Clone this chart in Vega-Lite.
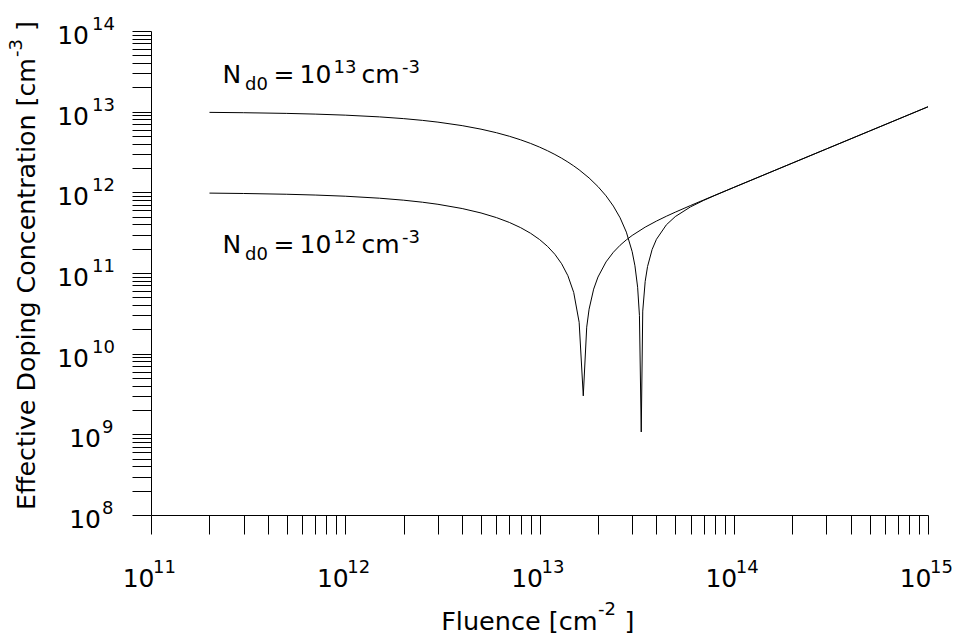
{
  "$schema": "https://vega.github.io/schema/vega-lite/v6.json",
  "width": 777,
  "height": 484,
  "autosize": "none",
  "padding": {"left": 151, "top": 31, "right": 31, "bottom": 120},
  "config": {"view": {"stroke": null}, "text": {"font": "DejaVu Sans", "color": "#000"}},
  "datasets": {
    "curves": [
      {"x": 2e11, "y": 9.783e11, "s": "12"}, {"x": 3e11, "y": 9.676e11, "s": "12"}, {"x": 5e11, "y": 9.464e11, "s": "12"},
      {"x": 7e11, "y": 9.257e11, "s": "12"}, {"x": 1e12, "y": 8.952e11, "s": "12"}, {"x": 1.5e12, "y": 8.46e11, "s": "12"},
      {"x": 2e12, "y": 7.99e11, "s": "12"}, {"x": 2.5e12, "y": 7.54e11, "s": "12"}, {"x": 3e12, "y": 7.108e11, "s": "12"},
      {"x": 4e12, "y": 6.297e11, "s": "12"}, {"x": 5e12, "y": 5.551e11, "s": "12"}, {"x": 6e12, "y": 4.864e11, "s": "12"},
      {"x": 7e12, "y": 4.231e11, "s": "12"}, {"x": 8e12, "y": 3.646e11, "s": "12"}, {"x": 9e12, "y": 3.105e11, "s": "12"},
      {"x": 1e13, "y": 2.603e11, "s": "12"}, {"x": 1.1e13, "y": 2.138e11, "s": "12"}, {"x": 1.2e13, "y": 1.705e11, "s": "12"},
      {"x": 1.3e13, "y": 1.302e11, "s": "12"}, {"x": 1.4e13, "y": 9.26e10, "s": "12"}, {"x": 1.5e13, "y": 5.74e10, "s": "12"},
      {"x": 1.6e13, "y": 2.45e10, "s": "12"}, {"x": 1.68e13, "y": 3.0e9, "s": "12"}, {"x": 1.75e13, "y": 2.13e10, "s": "12"},
      {"x": 1.8e13, "y": 3.56e10, "s": "12"}, {"x": 1.9e13, "y": 6.31e10, "s": "12"}, {"x": 2.0e13, "y": 8.91e10, "s": "12"},
      {"x": 2.2e13, "y": 1.372e11, "s": "12"}, {"x": 2.4e13, "y": 1.808e11, "s": "12"}, {"x": 2.6e13, "y": 2.208e11, "s": "12"},
      {"x": 2.8e13, "y": 2.577e11, "s": "12"}, {"x": 3.0e13, "y": 2.921e11, "s": "12"}, {"x": 3.5e13, "y": 3.701e11, "s": "12"},
      {"x": 4.0e13, "y": 4.402e11, "s": "12"}, {"x": 4.5e13, "y": 5.053e11, "s": "12"}, {"x": 5e13, "y": 5.676e11, "s": "12"},
      {"x": 6e13, "y": 6.872e11, "s": "12"}, {"x": 7e13, "y": 8.04e11, "s": "12"}, {"x": 8e13, "y": 9.196e11, "s": "12"},
      {"x": 1e14, "y": 1.15e12, "s": "12"}, {"x": 1.5e14, "y": 1.725e12, "s": "12"}, {"x": 2e14, "y": 2.3e12, "s": "12"},
      {"x": 3e14, "y": 3.45e12, "s": "12"}, {"x": 5e14, "y": 5.75e12, "s": "12"}, {"x": 7e14, "y": 8.05e12, "s": "12"},
      {"x": 1e15, "y": 1.15e13, "s": "12"},
      {"x": 2e11, "y": 9.804e12, "s": "13"}, {"x": 3e11, "y": 9.707e12, "s": "13"}, {"x": 5e11, "y": 9.516e12, "s": "13"},
      {"x": 7e11, "y": 9.329e12, "s": "13"}, {"x": 1e12, "y": 9.055e12, "s": "13"}, {"x": 1.5e12, "y": 8.616e12, "s": "13"},
      {"x": 2e12, "y": 8.197e12, "s": "13"}, {"x": 2.5e12, "y": 7.798e12, "s": "13"}, {"x": 3e12, "y": 7.418e12, "s": "13"},
      {"x": 4e12, "y": 6.711e12, "s": "13"}, {"x": 5e12, "y": 6.069e12, "s": "13"}, {"x": 6e12, "y": 5.485e12, "s": "13"},
      {"x": 7e12, "y": 4.955e12, "s": "13"}, {"x": 8e12, "y": 4.474e12, "s": "13"}, {"x": 9e12, "y": 4.036e12, "s": "13"},
      {"x": 1e13, "y": 3.638e12, "s": "13"}, {"x": 1.1e13, "y": 3.276e12, "s": "13"}, {"x": 1.2e13, "y": 2.947e12, "s": "13"},
      {"x": 1.3e13, "y": 2.648e12, "s": "13"}, {"x": 1.4e13, "y": 2.375e12, "s": "13"}, {"x": 1.5e13, "y": 2.127e12, "s": "13"},
      {"x": 1.6e13, "y": 1.901e12, "s": "13"}, {"x": 1.8e13, "y": 1.507e12, "s": "13"}, {"x": 2.0e13, "y": 1.179e12, "s": "13"},
      {"x": 2.2e13, "y": 9.05e11, "s": "13"}, {"x": 2.4e13, "y": 6.756e11, "s": "13"}, {"x": 2.6e13, "y": 4.833e11, "s": "13"},
      {"x": 2.8e13, "y": 3.21e11, "s": "13"}, {"x": 3.0e13, "y": 1.837e11, "s": "13"}, {"x": 3.1e13, "y": 1.228e11, "s": "13"},
      {"x": 3.2e13, "y": 6.66e10, "s": "13"}, {"x": 3.27e13, "y": 2.97e10, "s": "13"}, {"x": 3.34e13, "y": 1.07e9, "s": "13"},
      {"x": 3.4e13, "y": 3.37e10, "s": "13"}, {"x": 3.5e13, "y": 7.86e10, "s": "13"}, {"x": 3.6e13, "y": 1.204e11, "s": "13"},
      {"x": 3.8e13, "y": 1.956e11, "s": "13"}, {"x": 4.0e13, "y": 2.616e11, "s": "13"}, {"x": 4.5e13, "y": 3.96e11, "s": "13"},
      {"x": 5e13, "y": 5.005e11, "s": "13"}, {"x": 6e13, "y": 6.62e11, "s": "13"}, {"x": 7e13, "y": 7.945e11, "s": "13"},
      {"x": 8e13, "y": 9.161e11, "s": "13"}, {"x": 1e14, "y": 1.1495e12, "s": "13"}, {"x": 1.5e14, "y": 1.725e12, "s": "13"},
      {"x": 2e14, "y": 2.3e12, "s": "13"}, {"x": 3e14, "y": 3.45e12, "s": "13"}, {"x": 5e14, "y": 5.75e12, "s": "13"},
      {"x": 7e14, "y": 8.05e12, "s": "13"}, {"x": 1e15, "y": 1.15e13, "s": "13"}
    ],
    "xl": [
      {"x": 1e11, "y": 1e8, "e": "11"}, {"x": 1e12, "y": 1e8, "e": "12"}, {"x": 1e13, "y": 1e8, "e": "13"},
      {"x": 1e14, "y": 1e8, "e": "14"}, {"x": 1e15, "y": 1e8, "e": "15"}
    ],
    "yl": [
      {"x": 1e11, "y": 1e8, "e": "8"}, {"x": 1e11, "y": 1e9, "e": "9"}, {"x": 1e11, "y": 1e10, "e": "10"},
      {"x": 1e11, "y": 1e11, "e": "11"}, {"x": 1e11, "y": 1e12, "e": "12"}, {"x": 1e11, "y": 1e13, "e": "13"},
      {"x": 1e11, "y": 1e14, "e": "14"}
    ],
    "ann": [
      {"x": 2.335e11, "y": 2.25e13, "e": "13"},
      {"x": 2.335e11, "y": 1.77e11, "e": "12"}
    ],
    "xt": [{"x": 3.096e12, "y": 1e8}],
    "yt": [{"x": 1e11, "y": 1.09e8}]
  },
  "encoding": {
    "x": {
      "field": "x", "type": "quantitative",
      "scale": {"type": "log", "domain": [1e11, 1e15], "nice": false},
      "axis": {
        "values": [1e11, 2e11, 3e11, 4e11, 5e11, 6e11, 7e11, 8e11, 9e11,
                   1e12, 2e12, 3e12, 4e12, 5e12, 6e12, 7e12, 8e12, 9e12,
                   1e13, 2e13, 3e13, 4e13, 5e13, 6e13, 7e13, 8e13, 9e13,
                   1e14, 2e14, 3e14, 4e14, 5e14, 6e14, 7e14, 8e14, 9e14, 1e15],
        "tickSize": 19, "labels": false, "title": null, "grid": false,
        "domainColor": "#000", "tickColor": "#000", "domainWidth": 1, "tickWidth": 1
      }
    },
    "y": {
      "field": "y", "type": "quantitative",
      "scale": {"type": "log", "domain": [1e8, 1e14], "nice": false},
      "axis": {
        "values": [1e8, 2e8, 3e8, 4e8, 5e8, 6e8, 7e8, 8e8, 9e8,
                   1e9, 2e9, 3e9, 4e9, 5e9, 6e9, 7e9, 8e9, 9e9,
                   1e10, 2e10, 3e10, 4e10, 5e10, 6e10, 7e10, 8e10, 9e10,
                   1e11, 2e11, 3e11, 4e11, 5e11, 6e11, 7e11, 8e11, 9e11,
                   1e12, 2e12, 3e12, 4e12, 5e12, 6e12, 7e12, 8e12, 9e12,
                   1e13, 2e13, 3e13, 4e13, 5e13, 6e13, 7e13, 8e13, 9e13, 1e14],
        "tickSize": 19, "labels": false, "title": null, "grid": false,
        "domainColor": "#000", "tickColor": "#000", "domainWidth": 1, "tickWidth": 1
      }
    }
  },
  "layer": [
    {
      "data": {"name": "curves"},
      "mark": {"type": "line", "color": "#000", "strokeWidth": 1},
      "encoding": {"detail": {"field": "s"}}
    },
    {
      "data": {"name": "xl"},
      "mark": {"type": "text", "text": "10", "align": "right", "baseline": "alphabetic", "dx": 3.5, "dy": 72, "fontSize": 25}
    },
    {
      "data": {"name": "xl"},
      "mark": {"type": "text", "align": "left", "baseline": "alphabetic", "dx": 2, "dy": 58, "fontSize": 18},
      "encoding": {"text": {"field": "e"}}
    },
    {
      "data": {"name": "yl"},
      "transform": [{"filter": "length(datum.e) == 2"}],
      "mark": {"type": "text", "text": "10", "align": "right", "baseline": "alphabetic", "dx": -62, "dy": 13, "fontSize": 25}
    },
    {
      "data": {"name": "yl"},
      "transform": [{"filter": "length(datum.e) == 2"}],
      "mark": {"type": "text", "align": "left", "baseline": "alphabetic", "dx": -59, "dy": -1, "fontSize": 18},
      "encoding": {"text": {"field": "e"}}
    },
    {
      "data": {"name": "yl"},
      "transform": [{"filter": "length(datum.e) == 1"}],
      "mark": {"type": "text", "text": "10", "align": "right", "baseline": "alphabetic", "dx": -50, "dy": 13, "fontSize": 25}
    },
    {
      "data": {"name": "yl"},
      "transform": [{"filter": "length(datum.e) == 1"}],
      "mark": {"type": "text", "align": "left", "baseline": "alphabetic", "dx": -49, "dy": -1, "fontSize": 18},
      "encoding": {"text": {"field": "e"}}
    },
    {
      "data": {"name": "ann"},
      "mark": {"type": "text", "text": "N", "align": "left", "baseline": "alphabetic", "fontSize": 25}
    },
    {
      "data": {"name": "ann"},
      "mark": {"type": "text", "text": "d0", "align": "left", "baseline": "alphabetic", "dx": 22.5, "dy": 7, "fontSize": 18}
    },
    {
      "data": {"name": "ann"},
      "mark": {"type": "text", "text": "=", "align": "left", "baseline": "alphabetic", "dx": 51, "fontSize": 25}
    },
    {
      "data": {"name": "ann"},
      "mark": {"type": "text", "text": "10", "align": "left", "baseline": "alphabetic", "dx": 77, "fontSize": 25}
    },
    {
      "data": {"name": "ann"},
      "mark": {"type": "text", "align": "left", "baseline": "alphabetic", "dx": 111, "dy": -10, "fontSize": 18},
      "encoding": {"text": {"field": "e"}}
    },
    {
      "data": {"name": "ann"},
      "mark": {"type": "text", "text": "cm", "align": "left", "baseline": "alphabetic", "dx": 139, "fontSize": 25}
    },
    {
      "data": {"name": "ann"},
      "mark": {"type": "text", "text": "-3", "align": "left", "baseline": "alphabetic", "dx": 179.5, "dy": -10, "fontSize": 18}
    },
    {
      "data": {"name": "xt"},
      "mark": {"type": "text", "text": "Fluence [cm", "align": "right", "baseline": "alphabetic", "dx": 157, "dy": 115, "fontSize": 25.5}
    },
    {
      "data": {"name": "xt"},
      "mark": {"type": "text", "text": "-2", "align": "left", "baseline": "alphabetic", "dx": 157.5, "dy": 100, "fontSize": 18}
    },
    {
      "data": {"name": "xt"},
      "mark": {"type": "text", "text": "]", "align": "left", "baseline": "alphabetic", "dx": 184, "dy": 115, "fontSize": 25.5}
    },
    {
      "data": {"name": "yt"},
      "mark": {"type": "text", "text": "Effective Doping Concentration [cm", "angle": 270, "align": "right", "baseline": "alphabetic", "dx": 454, "dy": -116, "fontSize": 25.3}
    },
    {
      "data": {"name": "yt"},
      "mark": {"type": "text", "text": "-3", "angle": 270, "align": "left", "baseline": "alphabetic", "dx": 455, "dy": -129, "fontSize": 18}
    },
    {
      "data": {"name": "yt"},
      "mark": {"type": "text", "text": "]", "angle": 270, "align": "left", "baseline": "alphabetic", "dx": 481, "dy": -116, "fontSize": 25.3}
    }
  ]
}
